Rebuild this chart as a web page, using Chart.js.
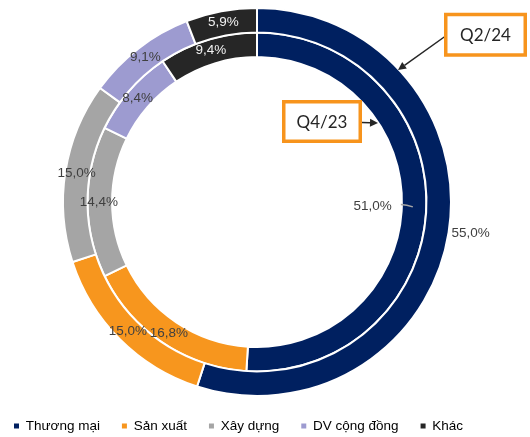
<!DOCTYPE html>
<html>
<head>
<meta charset="utf-8">
<script src="https://cdn.jsdelivr.net/npm/chart.js@4.4.1/dist/chart.umd.min.js"></script>
<style>
  html, body { margin: 0; padding: 0; background: #fff; }
</style>
</head>
<body>
<canvas id="chart1" width="530" height="437"></canvas>
<script>
// LOAN BOOK BY SECTOR (%)

let sectors = ["Thương mại", "Sản xuất", "Xây dựng", "DV cộng đồng", "Khác"];
let periods = ["Q2/24", "Q4/23"];
let q224 = [55.0, 15.0, 15.0, 9.1, 5.9];   // outer ring
let q423 = [51.0, 16.8, 14.4, 8.4, 9.4];   // inner ring

let sectorColors = ['#002060', '#F7961E', '#A5A5A5', '#9D9BD0', '#262626'];

// where each slice label goes: 'out' past the ring, 'in' inside the hole with a leader, 'mid' on the ring
let outerPlace = ['out', 'mid', 'mid', 'mid', 'mid'];
let innerPlace = ['in', 'mid', 'mid', 'mid', 'mid'];

const labelFont = '13.5px "Liberation Sans", Arial, sans-serif';

function fmtPct(v){
	return v.toFixed(1).replace('.', ',') + '%';
}

const sliceLabels = {
	id: 'sliceLabels',
	afterDatasetsDraw(chart){
		const ctx = chart.ctx;
		ctx.save();
		ctx.font = labelFont;
		ctx.textBaseline = 'middle';
		chart.data.datasets.forEach((ds, di) => {
			const meta = chart.getDatasetMeta(di);
			const place = di === 0 ? outerPlace : innerPlace;
			meta.data.forEach((arc, i) => {
				const p = arc.getProps(['x', 'y', 'startAngle', 'endAngle', 'innerRadius', 'outerRadius'], true);
				const mid = (p.startAngle + p.endAngle) / 2;
				const c = Math.cos(mid), s = Math.sin(mid);
				const txt = fmtPct(ds.data[i]);
				ctx.fillStyle = i === 4 ? '#F2F2F2' : '#404040';
				if (place[i] === 'out'){
					const r = p.outerRadius + 3;
					ctx.textAlign = 'left';
					ctx.fillText(txt, p.x + c * r, p.y + s * r);
				} else if (place[i] === 'in'){
					const r = p.innerRadius - 10;
					ctx.textAlign = 'right';
					ctx.fillText(txt, p.x + c * r, p.y + s * r);
					// leader line into the ring
					const r0 = p.innerRadius - 1, r1 = p.innerRadius + 11;
					ctx.strokeStyle = '#A6A6A6';
					ctx.lineWidth = 1.5;
					ctx.beginPath();
					ctx.moveTo(p.x + c * r0, p.y + s * r0 - 2);
					ctx.quadraticCurveTo(p.x + c * (r0 + 6), p.y + s * (r0 + 6) - 2, p.x + c * r1, p.y + s * r1);
					ctx.stroke();
				} else {
					const r = (p.innerRadius + p.outerRadius) / 2 + 1;
					ctx.textAlign = 'center';
					ctx.fillText(txt, p.x + c * r, p.y + s * r);
				}
			});
		});
		ctx.restore();
	}
};

// period call-out boxes with arrows
function arrow(ctx, x0, y0, x1, y1){
	const a = Math.atan2(y1 - y0, x1 - x0);
	const head = 8, half = 4;
	ctx.beginPath();
	ctx.moveTo(x0, y0);
	ctx.lineTo(x1 - Math.cos(a) * head, y1 - Math.sin(a) * head);
	ctx.stroke();
	ctx.beginPath();
	ctx.moveTo(x1, y1);
	ctx.lineTo(x1 - Math.cos(a) * head - Math.sin(a) * half, y1 - Math.sin(a) * head + Math.cos(a) * half);
	ctx.lineTo(x1 - Math.cos(a) * head + Math.sin(a) * half, y1 - Math.sin(a) * head - Math.cos(a) * half);
	ctx.closePath();
	ctx.fill();
}

function callout(ctx, text, x, y, w, h){
	ctx.fillStyle = '#FFFFFF';
	ctx.fillRect(x, y, w, h);
	ctx.strokeStyle = '#F7941D';
	ctx.lineWidth = 3.5;
	ctx.strokeRect(x, y, w, h);
	ctx.fillStyle = '#262626';
	ctx.font = '17px Lato, "Open Sans", sans-serif';
	ctx.textAlign = 'center';
	ctx.textBaseline = 'middle';
	ctx.fillText(text, x + w / 2, y + h / 2 + 1);
}

const callouts = {
	id: 'callouts',
	afterDraw(chart){
		const ctx = chart.ctx;
		ctx.save();
		ctx.strokeStyle = '#262626';
		ctx.fillStyle = '#262626';
		ctx.lineWidth = 1.5;
		arrow(ctx, 447, 35, 398, 70);
		arrow(ctx, 362, 122.5, 378, 123);
		callout(ctx, periods[0], 445.75, 14.5, 79.5, 40.5);
		callout(ctx, periods[1], 283.75, 101.75, 76.5, 39.5);
		ctx.restore();
	}
};

let ctx1 = document.getElementById('chart1');

let myChart1 = new Chart(ctx1, {
	type: 'doughnut',
	data: {
		labels: sectors,
		datasets: [{
			label: periods[0],
			data: q224,
			backgroundColor: sectorColors,
			borderColor: '#FFFFFF',
			borderWidth: 2
		}, {
			label: periods[1],
			data: q423,
			backgroundColor: sectorColors,
			borderColor: '#FFFFFF',
			borderWidth: 2
		}]
	},
	options: {
		responsive: false,
		animation: false,
		radius: 194,
		cutout: '74.7%',
		layout: {
			padding: { top: 6.75, left: -8, right: 16, bottom: -5.75 }
		},
		plugins: {
			tooltip: { enabled: false },
			legend: {
				position: 'bottom',
				align: 'start',
				labels: {
					boxWidth: 5,
					boxHeight: 5,
					padding: 22,
					color: '#404040',
					font: { family: '"Liberation Sans", Arial, sans-serif', size: 13.5 },
					generateLabels: function(chart){
						return sectors.map((s, i) => ({
							text: s,
							fillStyle: sectorColors[i],
							strokeStyle: sectorColors[i],
							lineWidth: 0,
							hidden: false,
							index: i
						}));
					}
				}
			}
		}
	},
	plugins: [sliceLabels, callouts]
});
</script>
</body>
</html>
